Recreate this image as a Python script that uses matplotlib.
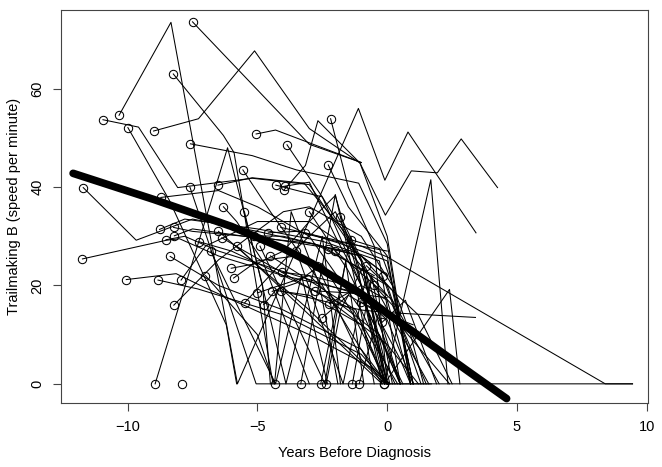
import matplotlib
matplotlib.use("Agg")
import matplotlib.pyplot as plt

# individual trajectories: (years before diagnosis, trailmaking B speed)
subjects = [
    [(-10.33, 54.6), (-8.33, 73.5), (-5.77, 0), (-1.11, 56.0), (-0.09, 41.4), (0.8, 51.2), (3.42, 30.7)],
    [(-7.5, 73.6), (-3.0, 48.7), (-1.0, 45.0)],
    [(-10.95, 53.7), (-9.58, 52.2), (-8.07, 39.9), (-5.2, 41.8), (-3.0, 40.5), (-1.0, 25), (0.1, 0)],
    [(-9.99, 52.1), (-8.39, 37.3), (-6.2, 12), (-5.8, 0)],
    [(-8.24, 63.0), (-6.31, 50.5), (-5.9, 47), (-4.4, 0)],
    [(-9.0, 51.4), (-7.27, 53.9), (-5.11, 67.7), (-3.0, 51.9), (-1.05, 44.9), (-0.07, 34.3),
     (0.93, 43.3), (1.93, 42.9), (2.85, 49.8), (4.25, 39.9)],
    [(-7.58, 48.8), (-5.2, 46.4), (-3.5, 43.5), (-1.1, 40.8), (0, 28.5), (0.9, 0)],
    [(-5.05, 50.8), (-4.3, 51.6), (-1.0, 45.0)],
    [(-3.86, 48.6), (-2.5, 38), (-1, 25), (0, 0)],
    [(-2.18, 53.9), (-1.5, 40), (-0.5, 28), (0, 0)],
    [(-2.27, 44.5), (-1.5, 36), (0, 26), (0.9, 0)],
    [(-5.56, 43.5), (-4.5, 35), (-2.5, 20), (-0.2, 0)],
    [(-6.52, 40.4), (-5.2, 41.9), (-3.2, 40.8), (-1.5, 30), (0.5, 0)],
    [(-4.29, 40.4), (-2.5, 38), (-1, 20), (0, 0)],
    [(-3.93, 40.2), (-3, 41), (-2, 30), (-1, 20), (-0.1, 0)],
    [(-3.98, 39.4), (-3.15, 44.4), (-2.67, 53.5), (-1.05, 44.9), (0.0, 30), (0.9, 0)],
    [(-11.71, 39.9), (-9.67, 29.2), (-7.5, 33.5), (-5, 31), (-2.5, 28), (0, 20), (1.3, 0)],
    [(-8.72, 37.9), (-6.5, 39.3), (-5.0, 36), (-3.0, 30), (-1.0, 15), (0.3, 0)],
    [(-6.31, 36.0), (-5.8, 33), (-4.8, 25), (-3.0, 0)],
    [(-8.77, 31.4), (-7.8, 33.5), (-5, 31.5), (-2.5, 29), (-0.3, 25), (0.5, 0)],
    [(-8.23, 31.8), (-7.5, 31), (-4.5, 29.5), (-1.5, 27), (0, 18)],
    [(-8.52, 29.3), (-7.8, 30), (-6.5, 27), (-3.5, 22), (-1, 18), (0.5, 0)],
    [(-8.2, 30.1), (-7.5, 31.5), (-5.5, 30), (-2.8, 28.5), (-0.5, 22)],
    [(-6.37, 29.7), (-5.5, 27), (-2.5, 18), (0, 8), (1.2, 0)],
    [(-7.25, 28.9), (-6, 27), (-4, 22), (-1.3, 15), (0.4, 0)],
    [(-5.13, 30.1), (-4, 30), (-2.5, 28), (-1, 26), (0, 22)],
    [(-4.58, 30.7), (-3.5, 31), (-2, 29), (0, 27)],
    [(-4.1, 31.8), (-3, 30.5), (-1.5, 28), (0, 25), (1, 0)],
    [(-3.18, 30.7), (-1, 28), (0, 25.8), (8.4, 0), (9.45, 0)],
    [(-11.74, 25.4), (-8.5, 29.2), (-8.0, 29.5), (-6.5, 26), (-4, 22), (-1.5, 19), (0, 15), (2.4, 0)],
    [(-8.36, 25.9), (-6.5, 20), (-4, 15), (-1, 7), (0, 0)],
    [(-6.01, 23.5), (-5, 24.5), (-4, 27), (-3, 33), (-2.0, 38.3), (-1, 20), (0, 0)],
    [(-5.92, 21.5), (-5.0, 25), (-3.5, 26), (-1.5, 20), (0, 15)],
    [(-4.06, 22.7), (-3, 22), (-2, 17), (-0.3, 10), (0.5, 0)],
    [(-2.27, 27.5), (-1, 26), (0.2, 19), (1, 0)],
    [(-10.05, 21.2), (-8.13, 22.4), (-7.0, 19.5), (-3, 10), (-0.5, 3), (0.1, 0)],
    [(-8.83, 21.1), (-7.3, 19.3), (-4, 14), (-1, 6), (0, 0)],
    [(-7.94, 21.1), (-7.0, 28), (-5, 33), (-3, 33), (-1, 26), (0, 22)],
    [(-8.22, 16.0), (-6.5, 25.2), (-5.3, 30), (-4, 35), (-3, 36), (-1, 30), (0.2, 20)],
    [(-5.49, 16.5), (-4, 25), (-3, 30), (-2, 35), (-1, 25), (0, 0)],
    [(-5.0, 18.5), (-3, 22), (-1.5, 20), (0, 13), (1, 0)],
    [(-4.76, 16.1), (-4.3, 19), (-3, 18), (-1, 12), (0, 0)],
    [(-4.43, 18.8), (-3.5, 20.5), (-2.5, 24.5), (-1.3, 14), (0, 0)],
    [(-4.11, 18.9), (-1, 15), (0, 14.5), (3.4, 13.5)],
    [(-2.79, 18.9), (-1.5, 18.5), (0, 17.5)],
    [(-2.51, 13.4), (-1.5, 18), (-0.5, 15), (0.5, 5), (0.9, 0)],
    [(-2.23, 16.3), (-1, 20), (0, 17), (0.9, 0)],
    [(-1.39, 29.3), (-0.3, 27.5), (0.9, 10), (1.4, 0)],
    [(-1.01, 16.6), (0, 14), (1, 12)],
    [(-0.5, 20.0), (0.2, 16), (1.5, 0)],
    [(-0.18, 21.9), (0.5, 12), (1.0, 0)],
    [(-0.2, 12.5), (0.7, 17), (1.9, 0)],
    [(-8.94, 0), (-6.15, 48), (-4.8, 20), (-4.5, 0)],
    [(-7.89, 0)],
    [(-4.34, 0), (-3.7, 35), (-2.6, 20), (-1.9, 0)],
    [(-3.33, 0), (-2.0, 38.5), (-1.2, 20), (-0.5, 0)],
    [(-2.56, 0), (-1.4, 30), (-0.2, 0)],
    [(-2.35, 0), (-1.8, 15), (-0.9, 24), (0.5, 0)],
    [(-1.34, 0), (-0.6, 22), (0.2, 0)],
    [(-1.08, 0), (-0.3, 15)],
    [(-0.11, 0), (1.68, 41.5), (2.34, 0)],
    [(-0.11, 0), (2.4, 19.2), (2.8, 0)],
    [(-7.6, 40), (-5.05, 0), (9.45, 0)],
    [(-6.8, 27), (-4.3, 0), (-3.3, 22), (-2.3, 0)],
    [(-7.0, 22), (-5.0, 10), (-4.35, 0)],
    [(-5.5, 35), (-3.9, 0), (-2.5, 30), (-1.8, 0)],
    [(-4.9, 28), (-2.4, 0), (-1.6, 25), (-0.9, 0)],
    [(-3.5, 27), (-1.7, 0), (-0.8, 22), (-0.1, 0)],
    [(-6.5, 31), (-3.0, 15), (-0.1, 0)],
    [(-5.8, 28), (-2.2, 10), (-0.2, 0)],
    [(-4.5, 26), (-1.2, 15), (-0.1, 0), (1.7, 0)],
    [(-2.7, 24), (-1.0, 5), (0.0, 0)],
    [(-3.0, 35), (-1.5, 23), (0.6, 0)],
    [(-1.8, 34), (-0.5, 20), (1.6, 0)],
    [(-2.0, 27), (0.2, 17), (2.0, 0)],
    [(-0.8, 24), (1.2, 14), (2.5, 0)],
]

# fitted mean curve
fit_x = [-12.1, -9, -6, -4, -2.9, -2.3, -1, 0, 1, 2, 3, 4.6]
fit_y = [42.8, 37.5, 32, 27.5, 24.5, 22.5, 18.3, 14.3, 10.6, 6.8, 3.0, -3.0]

plt.rcParams['font.family'] = ['Liberation Sans', 'DejaVu Sans']

fig = plt.figure(figsize=(6.62, 4.67), dpi=100)
ax = fig.add_axes([0.092, 0.137, 0.887, 0.8415])

for s in subjects:
    xs = [p[0] for p in s]
    ys = [p[1] for p in s]
    ax.plot(xs, ys, color='black', lw=0.75)
    ax.plot(xs[0], ys[0], marker='o', ms=6, mfc='none', mec='black', mew=0.75)

ax.plot(fit_x, fit_y, color='black', lw=5.5, solid_capstyle='round')

ax.set_xlim(-12.57, 10.05)
ax.set_ylim(-3.9, 76.0)
ax.set_xticks([-10, -5, 0, 5, 10])
ax.set_yticks([0, 20, 40, 60])
ax.set_yticklabels(['0', '20', '40', '60'], rotation=90, va='center')
ax.tick_params(direction='out', length=6, width=0.8, color='#444444', labelsize=10.5, pad=6)
for sp in ax.spines.values():
    sp.set_color('#444444')
    sp.set_linewidth(0.8)

ax.set_xlabel('Years Before Diagnosis', fontsize=10.5, labelpad=9)
ax.set_ylabel('Trailmaking B (speed per minute)', fontsize=10.5, labelpad=7)

fig.savefig('out.png', dpi=100)
